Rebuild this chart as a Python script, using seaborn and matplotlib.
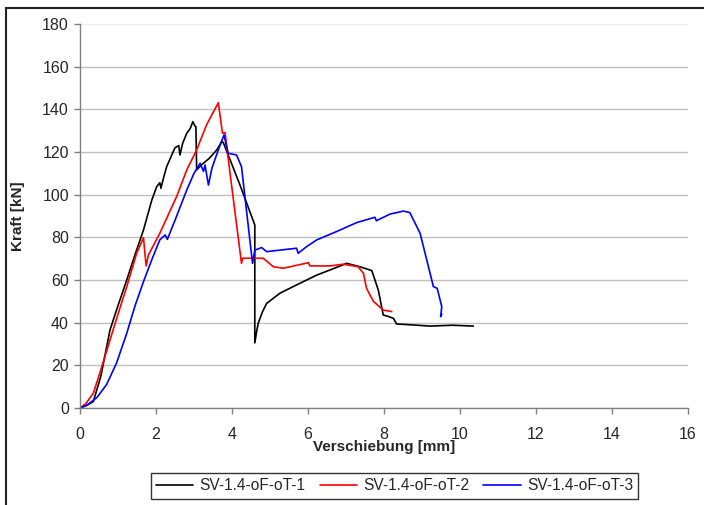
import pandas as pd
import matplotlib.pyplot as plt
import seaborn as sns
from matplotlib.patches import Rectangle

# --- data (Verschiebung [mm], Kraft [kN]) ---
x_1 = [0, 0.15, 0.35, 0.55, 0.79, 1.0, 1.23, 1.45, 1.67, 1.89, 2.02, 2.1, 2.13, 2.2, 2.28,
       2.4, 2.5, 2.55, 2.6, 2.63, 2.7, 2.81, 2.9, 2.97, 3.03, 3.05, 3.07, 3.2, 3.4, 3.6,
       3.73, 3.77, 4.2, 4.6, 4.6, 4.65, 4.69, 4.8, 4.91, 5.26, 5.7, 6.23, 6.58, 7.02, 7.37,
       7.68, 7.85, 7.98, 8.1, 8.25, 8.33, 8.7, 9.21, 9.8, 10.35]
y_1 = [0, 1, 3, 15, 36.6, 48, 60, 72, 83.4, 97.5, 103.8, 105.6, 103, 108, 113.1,
       118, 122, 122.5, 123, 118.6, 124, 128.8, 131, 134.2, 132, 131.9, 111.6, 114, 117, 121,
       124.8, 124.5, 105, 85.8, 30.5, 36, 39.7, 45, 49, 53.8, 57.7, 62.3, 64.7, 67.8, 66.2,
       64.4, 55.3, 43.6, 43, 42, 39.4, 39.0, 38.4, 38.8, 38.4]

x_2 = [0, 0.15, 0.35, 0.55, 0.79, 1.0, 1.23, 1.49, 1.67, 1.74, 1.8, 2.1, 2.54, 2.81, 3.07,
       3.33, 3.64, 3.75, 3.82, 3.86, 4.25, 4.28, 4.82, 5.09, 5.35, 6.01, 6.05, 6.58, 6.93,
       7.32, 7.46, 7.54, 7.72, 7.98, 8.2]
y_2 = [0, 2, 6.9, 18, 31.9, 44, 56.9, 72.5, 79.8, 66.6, 71.7, 81.9, 99, 111.6, 121,
       132.7, 143.1, 128.8, 129.1, 122.5, 67.8, 70.2, 70.2, 66.2, 65.5, 68.1, 66.6, 66.6, 67.4,
       66.2, 63.1, 56.1, 50, 45.9, 45.2]

x_3 = [0, 0.2, 0.45, 0.7, 0.96, 1.23, 1.45, 1.67, 1.9, 2.1, 2.24, 2.3, 2.5, 2.81, 3.0, 3.16,
       3.25, 3.29, 3.38, 3.47, 3.64, 3.79, 3.9, 4.12, 4.25, 4.54, 4.6, 4.78, 4.91, 5.26,
       5.7, 5.74, 5.96, 6.23, 6.75, 7.28, 7.76, 7.8, 8.16, 8.51, 8.68, 8.95, 9.3, 9.4,
       9.52, 9.49, 9.52]
y_3 = [0, 1.5, 5, 11, 21, 35, 48, 59.2, 70, 78.8, 81.1, 79.1, 88, 102.2, 110, 114.7,
       110.9, 113.9, 104.5, 112.3, 121, 128, 119.4, 118.6, 113.1, 67.8, 74, 75.2, 73.3, 74,
       74.9, 72.5, 75.6, 78.8, 82.7, 86.9, 89.4, 87.8, 90.9, 92.3, 91.6, 81.9, 56.9, 56.1,
       47.5, 42.8, 44]

names = ["SV-1.4-oF-oT-1", "SV-1.4-oF-oT-2", "SV-1.4-oF-oT-3"]
colors = ["#000000", "#ff0000", "#0000ff"]

df = pd.concat([
    pd.DataFrame({"Verschiebung": x, "Kraft": y, "Serie": n})
    for x, y, n in zip([x_1, x_2, x_3], [y_1, y_2, y_3], names)
])

sns.set_theme(style="white")
plt.rcParams["font.family"] = ["Liberation Sans", "DejaVu Sans"]

fig = plt.figure(figsize=(7.04, 5.05), dpi=100)
ax = fig.add_axes([80 / 704, 1 - 408 / 505, 608 / 704, 384 / 505])

# outer chart border (Excel style)
fig.patches.append(Rectangle((6 / 704, -0.1), 1.2, 1 - 8 / 505 + 0.1, transform=fig.transFigure,
                             fill=False, edgecolor="#222222", linewidth=1.5))

sns.lineplot(data=df, x="Verschiebung", y="Kraft", hue="Serie", palette=colors,
             sort=False, estimator=None, units="Serie", linewidth=1.2, ax=ax, legend=False)

ax.set_xlim(0, 16)
ax.set_ylim(0, 180)
ax.set_xticks(range(0, 17, 2))
ax.set_yticks(range(0, 181, 20))
ax.yaxis.grid(True, color="#c0c0c0", linewidth=1)
ax.get_ygridlines()[-1].set_color("#eeeeee")
ax.set_axisbelow(True)
for s in ["top", "right"]:
    ax.spines[s].set_visible(False)
for s in ["left", "bottom"]:
    ax.spines[s].set_color("#808080")
    ax.spines[s].set_linewidth(1)
ax.tick_params(axis="both", direction="out", length=4, width=1, color="#808080",
               labelsize=11.5, left=True, bottom=True)
ax.tick_params(axis="y", pad=4)
ax.tick_params(axis="x", pad=10)

ax.set_xlabel("Verschiebung [mm]", fontsize=11, fontweight="bold", labelpad=-2)
ax.set_ylabel("Kraft [kN]", fontsize=11, fontweight="bold", labelpad=12)

handles = [plt.Line2D([], [], color=c, linewidth=1.2) for c in colors]
leg = fig.legend(handles, names, loc="center", bbox_to_anchor=(394.5 / 704, 1 - 486 / 505),
                 ncol=3, fontsize=11.2, frameon=True, fancybox=False, handlelength=2.4,
                 handletextpad=0.4, columnspacing=0.9, borderpad=0.35)
leg.get_frame().set_edgecolor("#000000")
leg.get_frame().set_linewidth(1)

fig.savefig("out.png", dpi=100)
